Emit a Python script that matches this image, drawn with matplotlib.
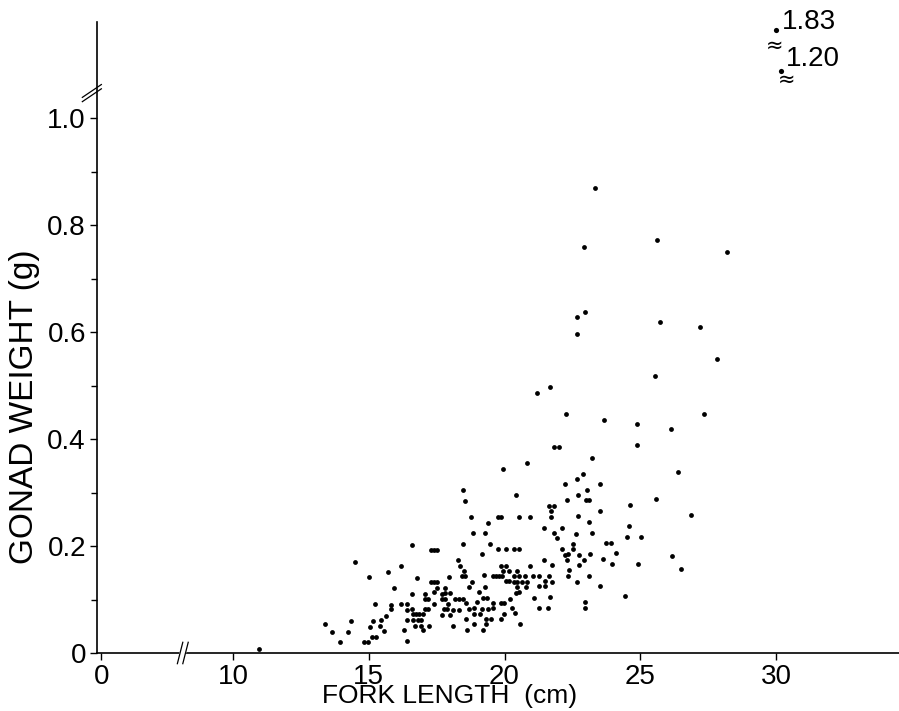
import matplotlib
matplotlib.use("Agg")
import matplotlib.pyplot as plt
from matplotlib import font_manager

# fork length (cm) and gonad weight (g)
fork_length = [
    10.96, 13.39, 13.65, 13.94, 14.24, 14.35, 14.49, 14.82, 14.97, 15.01,
    15.05, 15.16, 15.12, 15.27, 15.23, 15.45, 15.41, 15.56, 15.64, 15.71,
    15.82, 15.82, 15.93, 16.19, 16.19, 16.30, 16.41, 16.41, 16.41, 16.41,
    16.59, 16.78, 16.59, 17.07, 17.40, 17.70, 17.81, 17.99, 17.07, 17.18,
    17.70, 17.81, 18.18, 18.32, 18.47, 17.40, 17.92, 16.59, 17.07, 17.18,
    17.77, 17.88, 18.10, 18.32, 18.69, 18.88, 19.17, 19.39, 19.58, 16.63,
    16.74, 16.85, 17.00, 17.70, 17.99, 18.88, 19.10, 19.98, 16.63, 16.81,
    16.92, 18.58, 19.32, 19.50, 19.87, 16.70, 16.92, 17.22, 18.10, 18.88,
    19.32, 17.00, 18.62, 19.21, 18.55, 18.77, 19.76, 19.87, 19.39, 18.84,
    19.28, 18.47, 19.47, 17.29, 17.40, 17.51, 19.76, 20.06, 19.17, 18.29,
    18.36, 18.51, 19.87, 20.06, 19.94, 20.17, 18.43, 18.55, 19.24, 19.58,
    19.69, 19.80, 19.91, 17.96, 17.29, 17.40, 17.51, 18.80, 18.69, 19.28,
    17.51, 17.81, 19.06, 18.99, 19.21, 19.36, 18.58, 19.58, 19.87, 19.98,
    20.20, 18.47, 20.06, 20.17,
    20.35, 20.53, 20.46, 20.35, 20.53, 20.76, 21.05, 21.27, 21.64, 22.34,
    23.11, 20.35, 20.46, 20.64, 20.83, 21.49, 21.75, 22.67, 20.46, 20.79,
    21.27, 21.49, 23.52, 20.42, 20.53, 21.09, 21.68, 22.97, 20.28, 21.27,
    21.60, 22.97, 20.39, 20.57, 21.82, 22.01, 23.22, 20.83, 22.89, 22.67,
    22.23, 23.52, 23.04, 20.42, 22.71, 22.30, 23.00, 23.11, 21.64, 21.82,
    21.71, 23.52, 20.53, 20.94, 21.71, 22.71, 23.11, 21.45, 22.12, 21.82,
    22.63, 23.22, 21.93, 23.74, 23.92, 22.52, 22.12, 22.52, 24.11, 22.23,
    22.34, 22.74, 23.15, 22.30, 21.45, 22.93, 23.63, 21.75, 22.74, 23.96,
    20.94, 22.38, 19.94, 22.27, 23.33, 22.93, 25.62, 28.20, 22.67, 22.97,
    22.67, 25.73, 27.20, 27.83, 25.54, 21.20, 21.68, 23.66, 24.88, 27.35,
    26.13, 24.88, 26.39, 25.58, 24.62, 26.87, 24.59, 24.51, 25.03, 26.17,
    24.92, 26.50, 24.44,
]
gonad_weight = [
    0.007, 0.054, 0.039, 0.021, 0.039, 0.060, 0.170, 0.021, 0.021, 0.142,
    0.049, 0.060, 0.030, 0.030, 0.092, 0.062, 0.050, 0.041, 0.069, 0.151,
    0.090, 0.082, 0.121, 0.163, 0.092, 0.043, 0.092, 0.080, 0.062, 0.022,
    0.202, 0.140, 0.110, 0.110, 0.114, 0.110, 0.112, 0.112, 0.101, 0.101,
    0.101, 0.101, 0.101, 0.101, 0.101, 0.092, 0.092, 0.082, 0.082, 0.082,
    0.082, 0.082, 0.080, 0.080, 0.082, 0.084, 0.082, 0.082, 0.084, 0.073,
    0.073, 0.073, 0.073, 0.071, 0.071, 0.073, 0.073, 0.073, 0.062, 0.062,
    0.062, 0.064, 0.064, 0.064, 0.064, 0.050, 0.050, 0.050, 0.050, 0.054,
    0.054, 0.043, 0.043, 0.043, 0.284, 0.254, 0.254, 0.254, 0.243, 0.224,
    0.224, 0.204, 0.204, 0.193, 0.193, 0.193, 0.194, 0.194, 0.185, 0.174,
    0.163, 0.153, 0.163, 0.163, 0.153, 0.153, 0.144, 0.144, 0.146, 0.144,
    0.144, 0.144, 0.144, 0.142, 0.133, 0.133, 0.133, 0.133, 0.123, 0.123,
    0.121, 0.121, 0.114, 0.095, 0.103, 0.103, 0.093, 0.093, 0.093, 0.093,
    0.101, 0.305, 0.135, 0.135,
    0.194, 0.194, 0.153, 0.144, 0.144, 0.144, 0.144, 0.144, 0.144, 0.144,
    0.144, 0.133, 0.133, 0.133, 0.133, 0.135, 0.133, 0.133, 0.123, 0.123,
    0.125, 0.125, 0.125, 0.112, 0.114, 0.103, 0.105, 0.095, 0.084, 0.084,
    0.084, 0.084, 0.075, 0.054, 0.385, 0.385, 0.364, 0.355, 0.335, 0.325,
    0.316, 0.316, 0.305, 0.295, 0.295, 0.286, 0.286, 0.286, 0.275, 0.275,
    0.265, 0.265, 0.254, 0.254, 0.254, 0.256, 0.245, 0.234, 0.234, 0.224,
    0.222, 0.224, 0.215, 0.206, 0.206, 0.204, 0.194, 0.194, 0.187, 0.183,
    0.185, 0.183, 0.185, 0.174, 0.174, 0.174, 0.176, 0.164, 0.164, 0.166,
    0.163, 0.155, 0.344, 0.447, 0.869, 0.759, 0.772, 0.750, 0.628, 0.637,
    0.596, 0.619, 0.609, 0.550, 0.518, 0.486, 0.497, 0.436, 0.428, 0.447,
    0.419, 0.389, 0.338, 0.288, 0.277, 0.258, 0.237, 0.217, 0.217, 0.181,
    0.166, 0.157, 0.107,
]

# two fish off the scale, written in at the top right
outlier_length = [30.0, 30.2]
outlier_weight = [1.83, 1.20]
outlier_slot = [1.165, 1.088]

x_ticks = [10, 15, 20, 25, 30]
y_ticks = [0, 0.2, 0.4, 0.6, 0.8, 1.0]
y_minor = [0.1, 0.3, 0.5, 0.7, 0.9]

installed = {f.name for f in font_manager.fontManager.ttflist}
family = "Liberation Sans Narrow" if "Liberation Sans Narrow" in installed else "Liberation Sans"
plt.rcParams["font.family"] = [family, "DejaVu Sans"]

zero_pos = 5.15   # where the "0" of the broken x axis sits
x_break = 8.1
y_break = 1.043

fig = plt.figure(figsize=(8.99, 7.11), dpi=100)
ax = fig.add_axes([0.1079, 0.0816, 0.8921, 0.8875])

ax.scatter(fork_length, gonad_weight, s=12, color="black", linewidths=0, zorder=3)

ax.set_xlim(4.99, 34.53)
ax.set_ylim(0, 1.18)
ax.spines["top"].set_visible(False)
ax.spines["right"].set_visible(False)
for sp in ["left", "bottom"]:
    ax.spines[sp].set_linewidth(1.2)

ax.set_xticks([zero_pos] + x_ticks)
ax.set_xticklabels(["0"] + [str(t) for t in x_ticks])
ax.set_yticks(y_ticks)
ax.set_yticklabels(["0", "0.2", "0.4", "0.6", "0.8", "1.0"])
ax.set_yticks(y_minor, minor=True)
ax.tick_params(direction="out", length=5, width=1.0, labelsize=20, pad=3)
ax.tick_params(which="minor", direction="out", length=4, width=1.0)

ax.set_xlabel("FORK LENGTH  (cm)", fontsize=19)
ax.xaxis.set_label_coords(0.44, -0.049)
ax.set_ylabel("GONAD WEIGHT (g)", fontsize=24)
ax.yaxis.set_label_coords(-0.071, 0.39)

# break marks on both axes
ax.fill([x_break - 0.15, x_break + 0.05, x_break + 0.25, x_break + 0.05],
        [-0.02, -0.02, 0.02, 0.02], color="white", zorder=4, clip_on=False)
ax.plot([x_break - 0.15, x_break + 0.05], [-0.02, 0.02], color="black", lw=0.9,
        zorder=5, clip_on=False)
ax.plot([x_break + 0.05, x_break + 0.25], [-0.02, 0.02], color="black", lw=0.9,
        zorder=5, clip_on=False)
for dy in [0, 0.008]:
    ax.plot([4.45, 5.15], [y_break - 0.012 + dy, y_break + 0.012 + dy],
            color="black", lw=0.9, clip_on=False, zorder=5)

# off-scale values
for L, W, slot, off in zip(outlier_length, outlier_weight, outlier_slot, [(4, 6), (3, 9)]):
    ax.scatter([L], [slot], s=14, color="black", linewidths=0, clip_on=False)
    ax.annotate(f"{W:.2f}", (L, slot), xytext=off, textcoords="offset points",
                fontsize=20, ha="left", va="center", annotation_clip=False)
ax.text(29.95, 1.136, "≈", fontsize=15, ha="center", va="center", family="DejaVu Sans")
ax.text(30.4, 1.072, "≈", fontsize=15, ha="center", va="center", family="DejaVu Sans")

fig.savefig("out.png", dpi=100)
